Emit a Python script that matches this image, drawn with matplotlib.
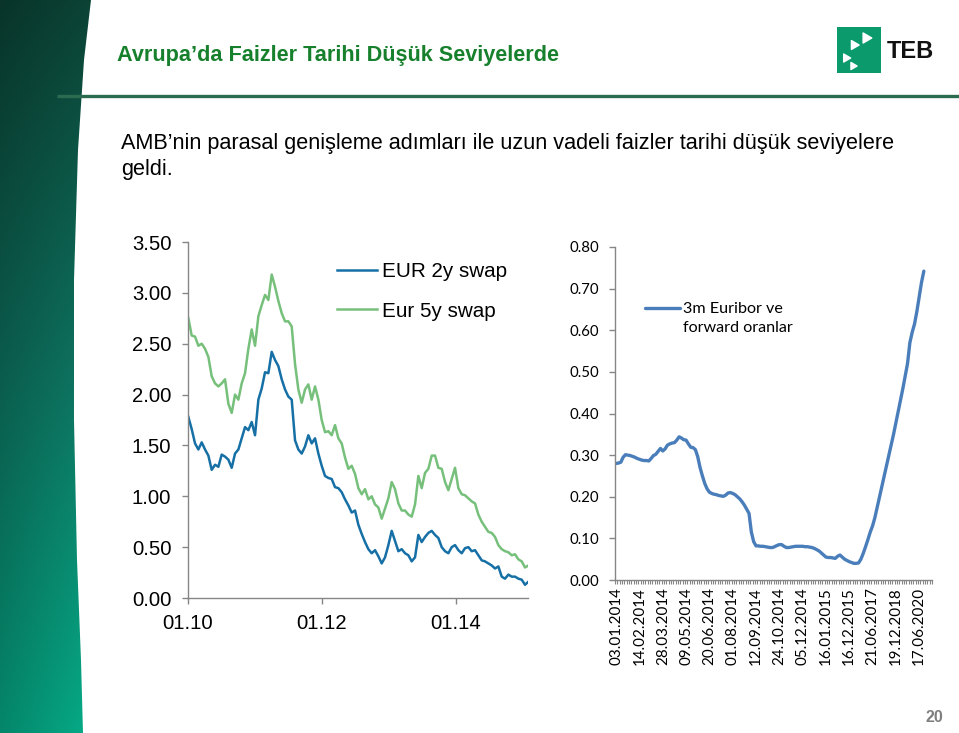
import numpy as np
import pandas as pd
import matplotlib
matplotlib.use("Agg")
import matplotlib.pyplot as plt
import matplotlib.dates as mdates
from matplotlib.patches import Polygon, Rectangle
from matplotlib.lines import Line2D
from matplotlib.ticker import FuncFormatter

plt.rcParams['font.family'] = ['Liberation Sans', 'DejaVu Sans']

# ---------------- data ----------------
swap_names = ["EUR 2y swap", "Eur 5y swap"]
swap_start = "2010-01-03"
swap_end = "2015-01-30"
eur_2y = [1.78, 1.66, 1.52, 1.46, 1.53, 1.46, 1.40, 1.26, 1.31, 1.29,
          1.41, 1.39, 1.36, 1.28, 1.42, 1.46, 1.57, 1.68, 1.65, 1.73,
          1.60, 1.95, 2.06, 2.22, 2.21, 2.42, 2.34, 2.28, 2.15, 2.05,
          1.98, 1.95, 1.55,
          1.46, 1.42, 1.49, 1.60, 1.52, 1.57, 1.42, 1.30, 1.20, 1.18,
          1.17, 1.09, 1.08, 1.04, 0.97, 0.91, 0.84, 0.86, 0.72, 0.63,
          0.55, 0.48, 0.44, 0.47, 0.41, 0.34, 0.40, 0.52, 0.66, 0.56,
          0.46, 0.48, 0.44,
          0.42, 0.36, 0.40, 0.62, 0.55, 0.60, 0.64, 0.66, 0.62, 0.59,
          0.50, 0.46, 0.44, 0.50, 0.52, 0.47, 0.44, 0.49, 0.50, 0.46,
          0.47, 0.42, 0.37, 0.36, 0.34, 0.32, 0.29, 0.31, 0.21, 0.19,
          0.23, 0.21, 0.21, 0.19, 0.18, 0.13, 0.16]
eur_5y = [2.75, 2.58, 2.57, 2.48, 2.50, 2.45, 2.37, 2.18, 2.11, 2.08,
          2.11, 2.15, 1.91, 1.82, 2.00, 1.95, 2.11, 2.21, 2.45, 2.64,
          2.48, 2.77, 2.88, 2.98, 2.93, 3.18, 3.06, 2.92, 2.80, 2.72,
          2.72, 2.67, 2.30,
          2.05, 1.92, 2.05, 2.10, 1.95, 2.08, 1.95, 1.75, 1.63, 1.64,
          1.60, 1.70, 1.57, 1.52, 1.38, 1.27, 1.30, 1.22, 1.08, 1.02,
          1.07, 0.97, 1.00, 0.92, 0.89, 0.78, 0.88, 0.98, 1.14, 1.07,
          0.93, 0.86, 0.86,
          0.82, 0.80, 0.92, 1.20, 1.08, 1.23, 1.27, 1.40, 1.40, 1.28,
          1.27, 1.14, 1.06, 1.17, 1.28, 1.08, 1.02, 1.01, 0.98, 0.95,
          0.93, 0.82, 0.75, 0.70, 0.65, 0.64, 0.60, 0.52, 0.48, 0.46,
          0.45, 0.42, 0.43, 0.38, 0.36, 0.30, 0.32]
swap_tick_dates = ["2010-01-01", "2012-01-01", "2014-01-01"]

euribor_name = "3m Euribor ve\nforward oranlar"
euribor_n_categories = 136
euribor_tick_labels = ["03.01.2014", "14.02.2014", "28.03.2014", "09.05.2014",
                       "20.06.2014", "01.08.2014", "12.09.2014", "24.10.2014",
                       "05.12.2014", "16.01.2015", "16.12.2015", "21.06.2017",
                       "19.12.2018", "17.06.2020"]
euribor_label_every = 10
euribor = [0.280, 0.281, 0.283, 0.295, 0.301, 0.300, 0.299, 0.297, 0.295, 0.292,
           0.290, 0.288, 0.287, 0.287, 0.286, 0.292, 0.299, 0.302, 0.309, 0.316,
           0.310, 0.315, 0.324, 0.327, 0.329, 0.330, 0.336, 0.344, 0.341, 0.337,
           0.336, 0.327, 0.319, 0.318, 0.313, 0.296, 0.270, 0.250, 0.232, 0.219,
           0.211, 0.208, 0.206, 0.205, 0.203, 0.202, 0.201, 0.204, 0.209, 0.210,
           0.208, 0.205, 0.200, 0.195, 0.188, 0.180, 0.170, 0.160, 0.115, 0.092,
           0.082, 0.082, 0.081, 0.081, 0.080, 0.079, 0.078, 0.078, 0.080, 0.083,
           0.085, 0.085, 0.081, 0.078, 0.078, 0.079, 0.080, 0.081, 0.081, 0.081,
           0.081, 0.080, 0.080, 0.079, 0.078, 0.076, 0.073, 0.070, 0.065, 0.060,
           0.055, 0.054, 0.054, 0.053, 0.052, 0.057, 0.060, 0.055, 0.050, 0.047,
           0.044, 0.042, 0.040, 0.040, 0.041, 0.050, 0.064, 0.080, 0.097, 0.115,
           0.130, 0.150, 0.175, 0.200, 0.225, 0.250, 0.275, 0.300, 0.325, 0.350,
           0.378, 0.405, 0.432, 0.460, 0.490, 0.520, 0.570, 0.595, 0.615, 0.645,
           0.680, 0.715, 0.742]

title_text = "Avrupa’da Faizler Tarihi Düşük Seviyelerde"
body_lines = ["AMB’nin parasal genişleme adımları ile uzun vadeli faizler tarihi düşük seviyelere",
              "geldi."]
page_no = "20"

# ---------------- figure ----------------
W, H = 959, 733
fig = plt.figure(figsize=(W / 100, H / 100), dpi=100, facecolor="white")

bg = fig.add_axes([0, 0, 1, 1], zorder=0)
bg.set_xlim(0, W)
bg.set_ylim(H, 0)
bg.axis("off")

# left decorative strip
ny, nx = 300, 60
yy = np.linspace(0, 1, ny)[:, None]
xx = np.linspace(0, 1, nx)[None, :]
c_top = np.array([0.04, 0.24, 0.19])
c_mid = np.array([0.05, 0.42, 0.35])
c_bot = np.array([0.02, 0.62, 0.49])
t = yy
col = np.where(t[..., None] < 0.5,
               c_top + (c_mid - c_top) * (t[..., None] / 0.5),
               c_mid + (c_bot - c_mid) * ((t[..., None] - 0.5) / 0.5))
col = col * (0.85 + 0.25 * xx[..., None])
col = np.clip(np.broadcast_to(col, (ny, nx, 3)), 0, 1)
img = bg.imshow(col, extent=[0, 95, H, 0], aspect="auto", zorder=1)
edge = [(0, 0), (91, 0), (84, 60), (78, 150), (74, 280), (74, 420),
        (77, 560), (81, 660), (83, H), (0, H)]
clip = Polygon(edge, closed=True, facecolor="none", edgecolor="none")
bg.add_patch(clip)
img.set_clip_path(clip)

# title + rule
bg.text(117, 55, title_text, fontsize=15.6, fontweight="bold", color="#16802c",
        va="center", ha="left", zorder=3)
bg.plot([57, W], [96, 96], color="#2b6b50", lw=2.4, solid_capstyle="butt", zorder=3)

# logo
bg.add_patch(Rectangle((837, 27), 44, 46, facecolor="#0a9a6c", edgecolor="none", zorder=3))
bg.scatter([866, 854, 846, 853], [38, 45, 58, 66], marker=(3, 0, 30), s=[70, 55, 45, 35],
           color="white", zorder=4)
bg.text(887, 51, "TEB", fontsize=17, fontweight="bold", color="#111111",
        va="center", ha="left", zorder=3)

# body text
bg.text(121, 143, body_lines[0], fontsize=15.6, color="black", va="center", ha="left", zorder=3)
bg.text(121, 170, body_lines[1], fontsize=15.6, color="black", va="center", ha="left", zorder=3)

# page number
bg.text(934, 718, page_no, fontsize=11.5, fontweight="bold", color="#7f7f7f",
        va="center", ha="center", zorder=3)

# ---------------- left chart ----------------
def fx(px):
    return px / W

def fy(py):
    return 1 - py / H

axL = fig.add_axes([fx(188), fy(598), (528 - 188) / W, (598 - 242) / H], zorder=2)
axL.set_facecolor("none")
dates = pd.date_range(swap_start, swap_end, periods=len(eur_2y))
axL.plot(dates, eur_2y, color="#1670a6", lw=1.8, label=swap_names[0])
axL.plot(dates, eur_5y, color="#76c07b", lw=1.8, label=swap_names[1])
axL.set_ylim(0, 3.5)
axL.set_yticks(np.arange(0, 3.51, 0.5))
axL.yaxis.set_major_formatter(FuncFormatter(lambda v, p: f"{v:.2f}"))
axL.set_xlim(pd.Timestamp("2010-01-01"), pd.Timestamp("2015-01-28"))
axL.set_xticks([pd.Timestamp(d) for d in swap_tick_dates])
axL.xaxis.set_major_formatter(mdates.DateFormatter("%m.%y"))
for s in ["top", "right"]:
    axL.spines[s].set_visible(False)
for s in ["left", "bottom"]:
    axL.spines[s].set_color("#868686")
    axL.spines[s].set_linewidth(1.0)
axL.tick_params(axis="y", length=4.5, width=1, color="#868686", labelsize=14.6, pad=7.5)
axL.tick_params(axis="x", length=4, width=1, color="#868686", labelsize=14.6, pad=7.5)
axL.legend(loc="upper left", bbox_to_anchor=(fx(337), fy(262)), bbox_transform=fig.transFigure,
           frameon=False, fontsize=14.9, handlelength=1.93, handletextpad=0.25,
           labelspacing=1.0, borderpad=0, borderaxespad=0)

# ---------------- right chart ----------------
lato = ["Lato", "DejaVu Sans"]
axR = fig.add_axes([fx(615), fy(580), (932 - 615) / W, (580 - 247) / H], zorder=2)
axR.set_facecolor("none")
xcat = np.arange(len(euribor))
axR.plot(xcat, euribor, color="#4a7ebb", lw=2.4, label=euribor_name,
         solid_joinstyle="round", solid_capstyle="round")
axR.set_xlim(-0.5, euribor_n_categories - 0.5)
axR.set_ylim(0, 0.8)
axR.set_yticks(np.arange(0, 0.81, 0.1))
axR.yaxis.set_major_formatter(FuncFormatter(lambda v, p: f"{v:.2f}"))
major_pos = np.arange(len(euribor_tick_labels)) * euribor_label_every
axR.set_xticks(major_pos)
axR.set_xticklabels(euribor_tick_labels, rotation=90, family=lato, fontsize=10.9)
axR.set_xticks(np.arange(-0.5, euribor_n_categories, 1), minor=True)
for lab in axR.get_yticklabels():
    lab.set_family(lato)
for s in ["top", "right"]:
    axR.spines[s].set_visible(False)
for s in ["left", "bottom"]:
    axR.spines[s].set_color("#868686")
    axR.spines[s].set_linewidth(1.0)
axR.tick_params(axis="y", length=4.5, width=1, color="#868686", labelsize=10.8, pad=7)
axR.tick_params(axis="x", which="major", length=0, pad=5)
axR.tick_params(axis="x", which="minor", length=3, width=0.8, color="#868686")

# legend for the right chart (handle aligned with first text line, as in the source)
bg.add_line(Line2D([645, 680], [308, 308], color="#4a7ebb", lw=2.4,
                   solid_capstyle="round", zorder=3))
bg.text(683, 302, euribor_name, family=lato, fontsize=11.6, color="black",
        va="top", ha="left", linespacing=1.45, zorder=3)

fig.savefig("out.png", dpi=100, facecolor="white")
